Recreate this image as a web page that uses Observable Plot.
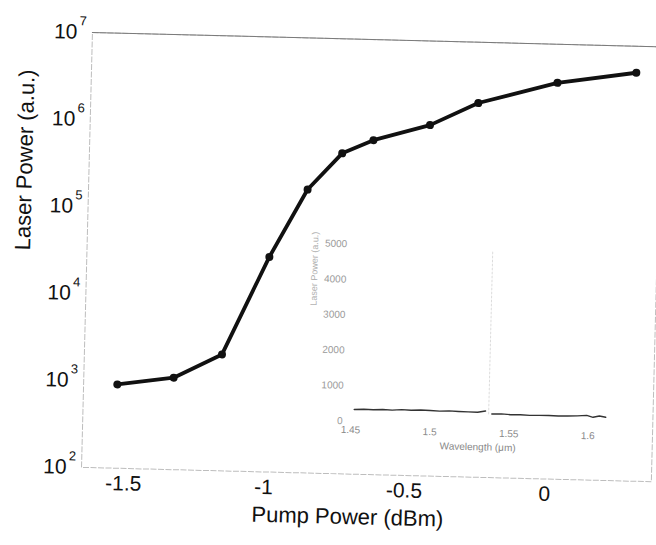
<!DOCTYPE html>
<html><head><meta charset="utf-8">
<script src="https://cdn.jsdelivr.net/npm/d3@7"></script>
<script src="https://cdn.jsdelivr.net/npm/@observablehq/plot@0.6"></script>
<style>
html,body{margin:0;padding:0;background:#fff;overflow:hidden;}
#wrap{position:relative;width:656px;height:545px;transform:rotate(1.44deg);transform-origin:328px 272px;}
#wrap svg{position:absolute;left:0;top:0;}
</style></head><body><div id="wrap"></div>
<script>
// Main curve: laser output vs pump power
const pumpPower  = [-1.53, -1.33, -1.16, -1.00, -0.87, -0.75, -0.64, -0.44, -0.27, 0.01, 0.29];
const laserPower = [920, 1140, 2180, 29700, 181000, 483000, 698000, 1080000, 2000000, 3600000, 4950000];
const xTicks = [-1.5, -1, -0.5, 0];
const yTicks = [1e2, 1e3, 1e4, 1e5, 1e6, 1e7];

// Inset: spectrum (wavelength in µm, power in a.u.)
const specWlLeft   = [1.452, 1.458, 1.464, 1.470, 1.476, 1.482, 1.488, 1.494, 1.500, 1.506, 1.512, 1.518, 1.524, 1.530, 1.535];
const specValLeft  = [330, 345, 335, 350, 340, 360, 350, 365, 355, 345, 360, 350, 345, 340, 380];
const specWlRight  = [1.539, 1.545, 1.551, 1.557, 1.563, 1.569, 1.575, 1.581, 1.587, 1.593, 1.599, 1.603, 1.607, 1.611];
const specValRight = [300, 310, 295, 300, 290, 295, 300, 290, 300, 310, 330, 280, 320, 290];
const peakWl  = [1.537, 1.537];
const peakVal = [300, 4900];
const insetXTicks = [1.45, 1.5, 1.55, 1.6];
const insetYTicks = [0, 1000, 2000, 3000, 4000, 5000];

const font = "'Liberation Sans', Arial, Helvetica, sans-serif";
const mainData = pumpPower.map((p, i) => ({p, l: laserPower[i]}));

const main = Plot.plot({
  width: 656, height: 545,
  marginLeft: 86, marginRight: 0, marginTop: 38, marginBottom: 72,
  style: {fontFamily: font, background: "transparent", overflow: "visible"},
  x: {domain: [-1.65, 0.38], axis: null},
  y: {type: "log", domain: [100, 1e7], axis: null},
  marks: [
    Plot.frame({stroke: "#bdbdbd", strokeWidth: 1, strokeDasharray: "6,1.5"}),
    Plot.ruleY([1e7], {stroke: "#7a7a7a", strokeWidth: 1}),
    Plot.line(mainData, {x: "p", y: "l", stroke: "#111", strokeWidth: 3.8, strokeLinejoin: "round", strokeLinecap: "round"}),
    Plot.dot(mainData, {x: "p", y: "l", r: 4, fill: "#111", stroke: "none"}),
    Plot.text(xTicks, {x: d => d, frameAnchor: "bottom", dy: 22, text: d => String(d), fontSize: 21, fill: "#111"}),
    Plot.text(yTicks, {y: d => d, frameAnchor: "left", dx: -15, textAnchor: "end", text: () => "10", fontSize: 21, fill: "#111"}),
    Plot.text(yTicks, {y: d => d, frameAnchor: "left", dx: -13, dy: -11, textAnchor: "start", text: d => String(Math.round(Math.log10(d))), fontSize: 13, fill: "#111"}),
    Plot.text(["Pump Power (dBm)"], {frameAnchor: "bottom", dy: 50, dx: -18, fontSize: 22, fill: "#111"}),
    Plot.text(["Laser Power (a.u.)"], {frameAnchor: "left", dx: -64, dy: 2, rotate: -90, fontSize: 22, fill: "#111"})
  ]
});

const spec = [
  ...specWlLeft.map((w, i) => ({w, v: specValLeft[i], s: "a"})),
  ...specWlRight.map((w, i) => ({w, v: specValRight[i], s: "b"}))
];
const peak = peakWl.map((w, i) => ({w, v: peakVal[i]}));

const inset = Plot.plot({
  width: 350, height: 250,
  marginLeft: 64, marginRight: 17, marginTop: 28, marginBottom: 45,
  style: {fontFamily: font, background: "transparent", overflow: "visible"},
  x: {domain: [1.45, 1.62], axis: null},
  y: {domain: [0, 5000], axis: null},
  marks: [
    Plot.line(peak, {x: "w", y: "v", stroke: "#dcdcdc", strokeWidth: 1, strokeDasharray: "2,2"}),
    Plot.line(spec, {x: "w", y: "v", z: "s", stroke: "#333", strokeWidth: 1.4}),
    Plot.text(insetYTicks, {y: d => d, frameAnchor: "left", dx: -8, textAnchor: "end", text: d => String(d), fontSize: 10, fill: "#9a9a9a"}),
    Plot.text(insetXTicks, {x: d => d, frameAnchor: "bottom", dy: 12, text: d => String(d), fontSize: 10, fill: "#8a8a8a"}),
    Plot.text(["Wavelength (\u03bcm)"], {frameAnchor: "bottom", dy: 26, dx: -7, fontSize: 10, fill: "#888"}),
    Plot.text(["Laser Power (a.u.)"], {frameAnchor: "left", dx: -40, dy: -26, rotate: -90, fontSize: 9, fill: "#b0b0b0"})
  ]
});
inset.style.left = "290px";
inset.style.top = "215px";

const wrap = document.getElementById("wrap");
wrap.appendChild(main);
wrap.appendChild(inset);
</script>
</body></html>
